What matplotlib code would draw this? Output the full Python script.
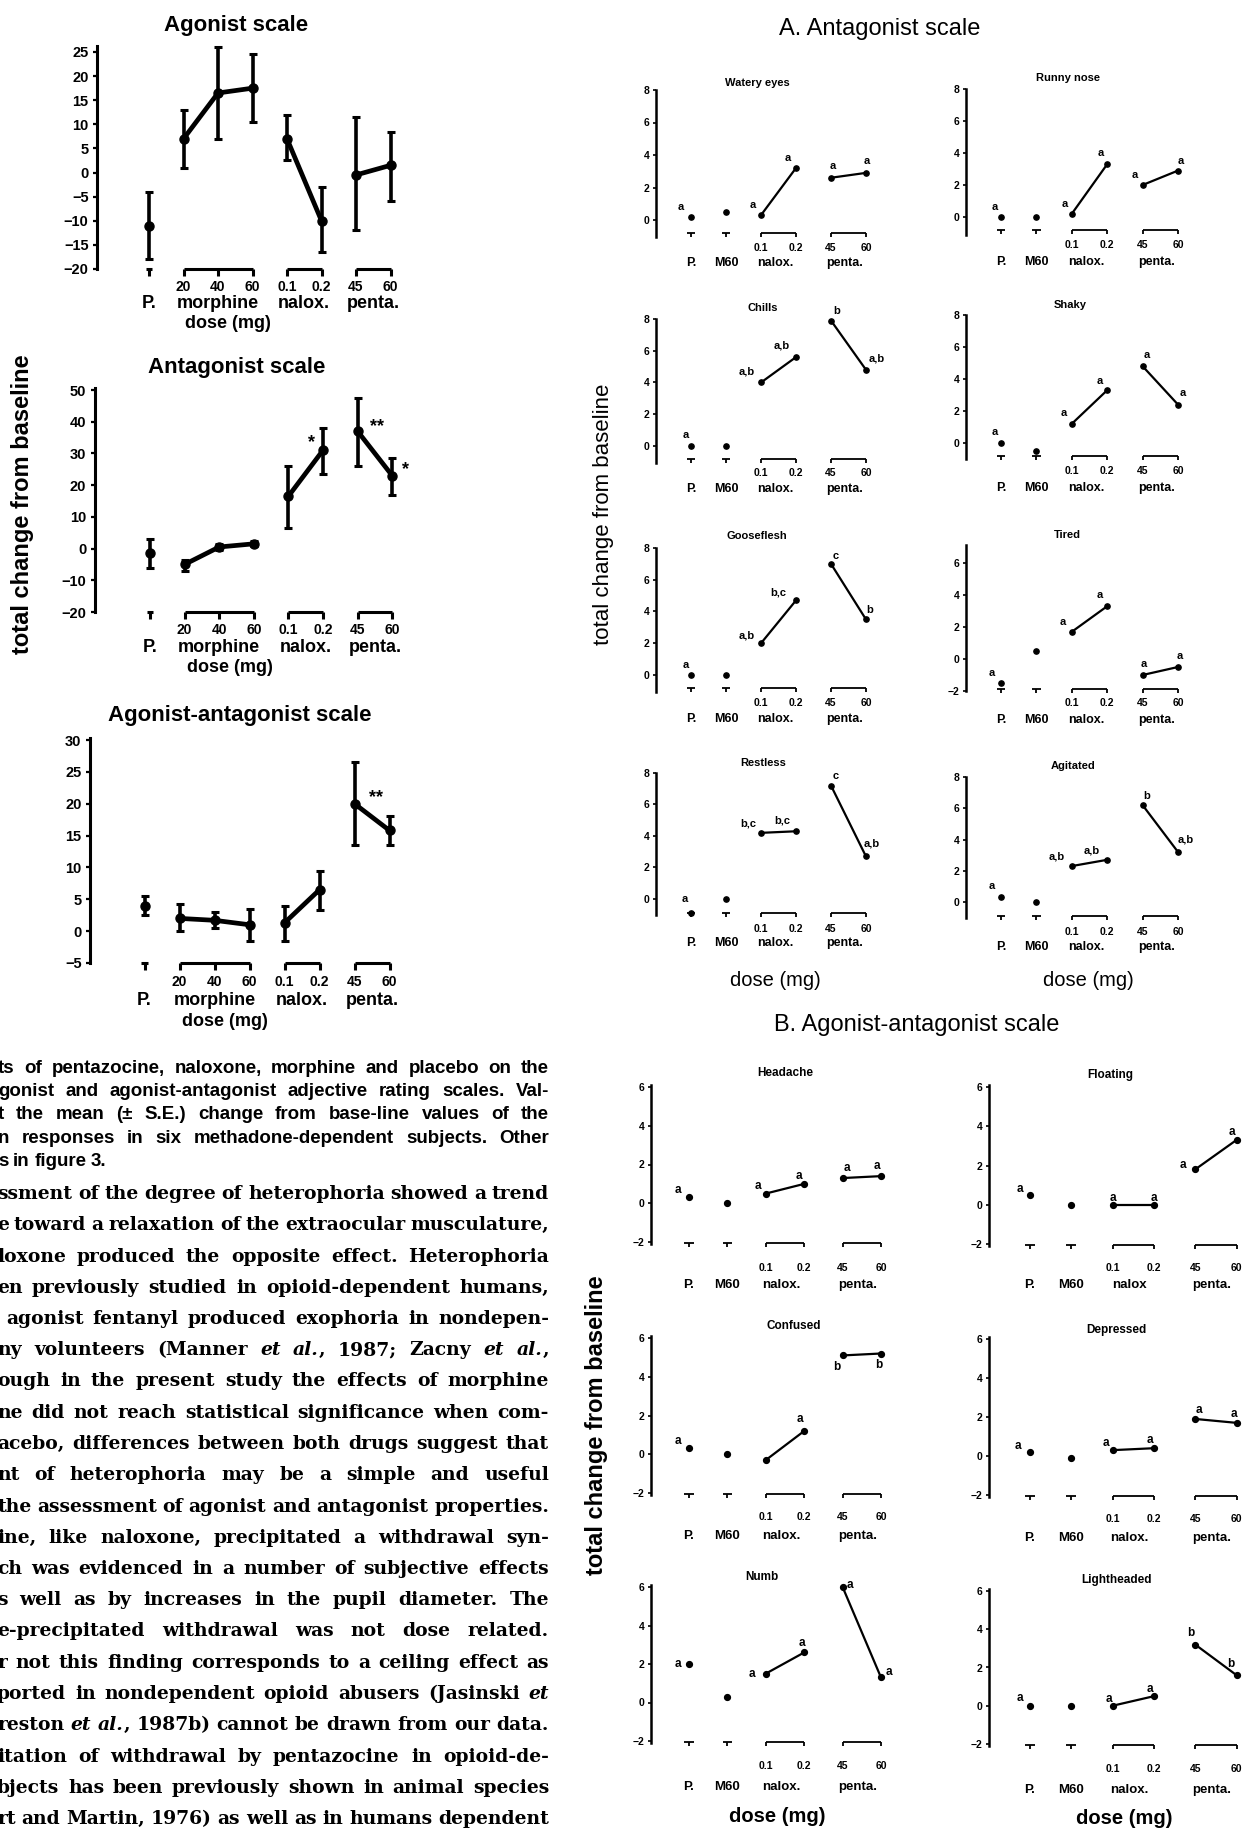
import numpy as np
import matplotlib.pyplot as plt
from matplotlib import transforms

plt.rcParams['font.family'] = ['Liberation Sans', 'DejaVu Sans']

# ---------- 数据: 左侧三个量表 (P, morphine 20/40/60, nalox 0.1/0.2, penta 45/60) ----------
big_doses = ['20', '40', '60', '0.1', '0.2', '45', '60']
big_groups = ['P.', 'morphine', 'nalox.', 'penta.']

agonist_mean = [-11, 7, 16.5, 17.5, 7, -10, -0.5, 1.5]
agonist_low = [-18, 1, 7, 10.5, 2.5, -16.5, -12, -6]
agonist_high = [-4, 13, 26, 24.5, 12, -3, 11.5, 8.5]

antagonist_mean = [-1.5, -5, 0.5, 1.5, 16.5, 31, 37, 23]
antagonist_low = [-6, -7, -0.3, 0.7, 6.5, 23.5, 26, 17]
antagonist_high = [3, -3.5, 1.3, 2.3, 26, 38, 47.5, 28.5]

agant_mean = [4, 2, 1.7, 1, 1.3, 6.5, 20, 15.8]
agant_low = [2.5, 0, 0.5, -1.5, -1.5, 3.3, 13.5, 13.5]
agant_high = [5.5, 4.3, 3, 3.5, 4, 9.5, 26.5, 18]

# ---------- 数据: 右侧形容词 (P, M60, nalox 0.1, 0.2, penta 45, 60) ----------
small_doses = ['0.1', '0.2', '45', '60']

watery_eyes = [0.2, 0.5, 0.3, 3.2, 2.6, 2.9]
watery_eyes_sig = ['a', '', 'a', 'a', 'a', 'a']
runny_nose = [0.0, 0.0, 0.2, 3.3, 2.0, 2.9]
runny_nose_sig = ['a', '', 'a', 'a', 'a', 'a']
chills = [0.0, 0.0, 4.0, 5.6, 7.9, 4.8]
chills_sig = ['a', '', 'a,b', 'a,b', 'b', 'a,b']
shaky = [0.0, -0.5, 1.2, 3.3, 4.8, 2.4]
shaky_sig = ['a', '', 'a', 'a', 'a', 'a']
gooseflesh = [0.0, 0.0, 2.0, 4.7, 7.0, 3.5]
gooseflesh_sig = ['a', '', 'a,b', 'b,c', 'c', 'b']
tired = [-1.5, 0.5, 1.7, 3.3, -1.0, -0.5]
tired_sig = ['a', '', 'a', 'a', 'a', 'a']
restless = [-0.9, 0.0, 4.2, 4.3, 7.2, 2.7]
restless_sig = ['a', '', 'b,c', 'b,c', 'c', 'a,b']
agitated = [0.3, 0.0, 2.3, 2.7, 6.2, 3.2]
agitated_sig = ['a', '', 'a,b', 'a,b', 'b', 'a,b']

headache = [0.3, 0.0, 0.5, 1.0, 1.3, 1.4]
headache_sig = ['a', '', 'a', 'a', 'a', 'a']
floating = [0.5, 0.0, 0.0, 0.0, 1.8, 3.3]
floating_sig = ['a', '', 'a', 'a', 'a', 'a']
confused = [0.3, 0.0, -0.3, 1.2, 5.1, 5.2]
confused_sig = ['a', '', '', 'a', 'b', 'b']
depressed = [0.2, -0.1, 0.3, 0.4, 1.9, 1.7]
depressed_sig = ['a', '', 'a', 'a', 'a', 'a']
numb = [2.0, 0.3, 1.5, 2.6, 6.0, 1.3]
numb_sig = ['a', '', 'a', 'a', 'a', 'a']
lightheaded = [0.0, 0.0, 0.0, 0.5, 3.2, 1.6]
lightheaded_sig = ['a', '', 'a', 'a', 'b', 'b']

caption_lines = [
    "ts of pentazocine, naloxone, morphine and placebo on the",
    "gonist and agonist-antagonist adjective rating scales. Val-",
    "t the mean (\u00b1 S.E.) change from base-line values of the",
    "n responses in six methadone-dependent subjects. Other",
    "s in figure 3.",
]
body_lines = [
    "ssment of the degree of heterophoria showed a trend",
    "e toward a relaxation of the extraocular musculature,",
    "loxone produced the opposite effect. Heterophoria",
    "en previously studied in opioid-dependent humans,",
    " agonist fentanyl produced exophoria in nondepen-",
    "ny volunteers (Manner _et_ _al._, 1987; Zacny _et_ _al._,",
    "ough in the present study the effects of morphine",
    "ne did not reach statistical significance when com-",
    "acebo, differences between both drugs suggest that",
    "nt of heterophoria may be a simple and useful",
    "the assessment of agonist and antagonist properties.",
    "ine, like naloxone, precipitated a withdrawal syn-",
    "ch was evidenced in a number of subjective effects",
    "s well as by increases in the pupil diameter. The",
    "e-precipitated withdrawal was not dose related.",
    "r not this finding corresponds to a ceiling effect as",
    "ported in nondependent opioid abusers (Jasinski _et_",
    "reston _et_ _al._, 1987b) cannot be drawn from our data.",
    "itation of withdrawal by pentazocine in opioid-de-",
    "bjects has been previously shown in animal species",
    "rt and Martin, 1976) as well as in humans dependent",
]

# ---------- 画布 ----------
W, H = 1243, 1832
fig = plt.figure(figsize=(W / 100, H / 100), dpi=100)


def place(x0, dx, ymap, xlim, ylim):
    # x0: pixel of index 0, dx: pixels per index; ymap: (va, pa, vb, pb)
    va, pa, vb, pb = ymap
    sy = (pb - pa) / (vb - va)
    left = x0 + xlim[0] * dx
    right = x0 + xlim[1] * dx
    top = pa + (ylim[1] - va) * sy
    bottom = pa + (ylim[0] - va) * sy
    ax = fig.add_axes([left / W, 1 - bottom / H, (right - left) / W, (bottom - top) / H])
    ax.set_xlim(xlim)
    ax.set_ylim(ylim)
    ax.patch.set_visible(False)
    for s in ['top', 'right', 'bottom']:
        ax.spines[s].set_visible(False)
    ax.set_xticks([])
    return ax


def ftext(xpx, ypx, s, **kw):
    fig.text(xpx / W, 1 - ypx / H, s, ha=kw.pop('ha', 'center'), va=kw.pop('va', 'center'), **kw)


def xtext(ax, x, ypx, s, **kw):
    tr = transforms.blended_transform_factory(ax.transData, fig.transFigure)
    ax.text(x, 1 - ypx / H, s, transform=tr, ha='center', va='center', clip_on=False, **kw)


def brackets(ax, groups, base, lw, ms, stub=0.12):
    for lo, hi in groups:
        if lo == hi:
            xs = [lo - stub, lo + stub]
            tx = [lo]
        else:
            xs = [lo, hi]
            tx = list(range(lo, hi + 1))
        ax.plot(xs, [base, base], color='k', lw=lw, clip_on=False, solid_capstyle='butt')
        ax.plot(tx, [base] * len(tx), ls='none', marker=3, ms=ms, mew=lw, color='k', clip_on=False)


# ---------- 左侧大图 ----------
big_panels = [
    dict(title='Agonist scale', title_xy=(236, 25), mean=agonist_mean, low=agonist_low, high=agonist_high,
         x0=149, dx=34.5, ymap=(25, 52, -20, 269), ylim=(-20, 26.2), ticks=list(range(-20, 30, 5)),
         xlim=(-1.51, 7.6), dose_y=287, group_y=304, mg_y=323, stars=[]),
    dict(title='Antagonist scale', title_xy=(237, 367), mean=antagonist_mean, low=antagonist_low,
         high=antagonist_high, x0=150, dx=34.6, ymap=(50, 390, -20, 612), ylim=(-20, 50.5),
         ticks=list(range(-20, 60, 10)), xlim=(-1.6, 7.6), dose_y=630, group_y=648, mg_y=668,
         stars=[(4.67, 33.5, '*'), (6.55, 38.5, '**'), (7.38, 25, '*')]),
    dict(title='Agonist-antagonist scale', title_xy=(240, 715), mean=agant_mean, low=agant_low, high=agant_high,
         x0=144.5, dx=35, ymap=(30, 740, -5, 963), ylim=(-5, 30.3), ticks=list(range(-5, 35, 5)),
         xlim=(-1.56, 7.6), dose_y=982, group_y=1000, mg_y=1022, stars=[(6.62, 21, '**')]),
]

for p in big_panels:
    ax = place(p['x0'], p['dx'], p['ymap'], p['xlim'], p['ylim'])
    x = np.arange(8)
    mean = np.array(p['mean'], float)
    yerr = [mean - np.array(p['low']), np.array(p['high']) - mean]
    ax.errorbar(x, mean, yerr=yerr, fmt='o', color='k', ms=6.5, elinewidth=2.6, capsize=3,
                capthick=2.2, clip_on=False)
    for a, b in [(1, 4), (4, 6), (6, 8)]:
        ax.plot(x[a:b], mean[a:b], color='k', lw=3.4, clip_on=False)
    ax.set_yticks(p['ticks'])
    ax.tick_params(axis='y', direction='out', length=3, width=1.6, labelsize=10.5, pad=3)
    for lbl in ax.get_yticklabels():
        lbl.set_fontweight('bold')
    ax.spines['left'].set_linewidth(2.2)
    ax.spines['left'].set_bounds(p['ylim'][0], p['ylim'][1])
    brackets(ax, [(0, 0), (1, 3), (4, 5), (6, 7)], p['ylim'][0], 2.2, 5, stub=0.1)
    for i, d in enumerate(big_doses):
        xtext(ax, i + 1, p['dose_y'], d, fontsize=10, fontweight='bold')
    for gx, g in zip([0, 2, 4.5, 6.5], big_groups):
        xtext(ax, gx, p['group_y'], g, fontsize=13, fontweight='bold')
    xtext(ax, 2.3, p['mg_y'], 'dose (mg)', fontsize=13, fontweight='bold')
    for sx, sy, s in p['stars']:
        ax.text(sx, sy, s, ha='center', va='center', fontsize=13, fontweight='bold')
    ftext(*p['title_xy'], p['title'], fontsize=16, fontweight='bold')

ftext(23, 504, 'total change from baseline', rotation=90, fontsize=17, fontweight='bold')

# ---------- 右侧小图 ----------
A_off = dict(
    watery=[(-0.3, 0.6), (0, 0), (-0.23, 0.6), (-0.23, 0.6), (0.06, 0.7), (0.03, 0.7)],
    runny=[(-0.17, 0.6), (0, 0), (-0.2, 0.6), (-0.18, 0.7), (-0.22, 0.6), (0.08, 0.6)],
    chills=[(-0.15, 0.7), (0, 0), (-0.4, 0.7), (-0.4, 0.7), (0.17, 0.6), (0.31, 0.7)],
    shaky=[(-0.17, 0.7), (0, 0), (-0.22, 0.7), (-0.2, 0.6), (0.12, 0.7), (0.14, 0.7)],
    goose=[(-0.15, 0.6), (0, 0), (-0.4, 0.5), (-0.5, 0.5), (0.12, 0.5), (0.1, 0.6)],
    tired=[(-0.25, 0.6), (0, 0), (-0.25, 0.6), (-0.2, 0.7), (0.04, 0.7), (0.06, 0.7)],
    restless=[(-0.17, 0.9), (0, 0), (-0.37, 0.6), (-0.4, 0.7), (0.12, 0.6), (0.15, 0.8)],
    agitated=[(-0.25, 0.7), (0, 0), (-0.42, 0.6), (-0.43, 0.6), (0.12, 0.6), (0.22, 0.8)],
)
B_off = dict(
    headache=[(-0.3, 0.4), (0, 0), (-0.2, 0.4), (-0.15, 0.4), (0.1, 0.5), (-0.1, 0.5)],
    floating=[(-0.25, 0.3), (0, 0), (0, 0.35), (0, 0.35), (-0.3, 0.2), (-0.1, 0.4)],
    confused=[(-0.3, 0.4), (0, 0), (0, 0), (-0.1, 0.6), (-0.15, -0.6), (-0.05, -0.6)],
    depressed=[(-0.3, 0.3), (0, 0), (-0.15, 0.35), (-0.1, 0.4), (0.1, 0.45), (-0.05, 0.45)],
    numb=[(-0.3, 0.0), (0, 0), (-0.35, 0.0), (-0.05, 0.5), (0.2, 0.1), (0.2, 0.3)],
    light=[(-0.25, 0.4), (0, 0), (-0.1, 0.35), (-0.1, 0.4), (-0.1, 0.6), (-0.15, 0.6)],
)

L_A = dict(x0=691, dx=35)
R_A = dict(x0=1001, dx=35.4)
L_B = dict(x0=689, dx=38.4)
R_B = dict(x0=1030, dx=41.3)

A8 = [0, 2, 4, 6, 8]
B6 = [-2, 0, 2, 4, 6]
small_panels = [
    dict(L_A, title='Watery eyes', title_xy=(757, 83), vals=watery_eyes, sig=watery_eyes_sig, off=A_off['watery'],
         ymap=(8, 90, 0, 220), ylim=(-1.05, 8), ticks=A8, base=-0.8, dose_y=248, group_y=263),
    dict(R_A, title='Runny nose', title_xy=(1068, 78), vals=runny_nose, sig=runny_nose_sig, off=A_off['runny'],
         ymap=(8, 89, 0, 217), ylim=(-1.1, 8), ticks=A8, base=-0.8, dose_y=245, group_y=262),
    dict(L_A, title='Chills', title_xy=(763, 308), vals=chills, sig=chills_sig, off=A_off['chills'],
         ymap=(8, 319, 0, 446), ylim=(-1.1, 8), ticks=A8, base=-0.8, dose_y=473, group_y=489),
    dict(R_A, title='Shaky', title_xy=(1070, 305), vals=shaky, sig=shaky_sig, off=A_off['shaky'],
         ymap=(8, 315, 0, 443), ylim=(-1.0, 8), ticks=A8, base=-0.8, dose_y=471, group_y=488),
    dict(L_A, title='Gooseflesh', title_xy=(757, 536), vals=gooseflesh, sig=gooseflesh_sig, off=A_off['goose'],
         ymap=(8, 548, 0, 675), ylim=(-1.1, 8), ticks=A8, base=-0.8, dose_y=703, group_y=719),
    dict(R_A, title='Tired', title_xy=(1067, 535), vals=tired, sig=tired_sig, off=A_off['tired'],
         ymap=(6, 563, -2, 691), ylim=(-2.0, 7.1), ticks=B6, base=-1.9, dose_y=703, group_y=720),
    dict(L_A, title='Restless', title_xy=(763, 763), vals=restless, sig=restless_sig, off=A_off['restless'],
         ymap=(8, 773, 0, 899), ylim=(-1.0, 8), ticks=A8, base=-0.9, dose_y=929, group_y=943),
    dict(R_A, title='Agitated', title_xy=(1073, 766), vals=agitated, sig=agitated_sig, off=A_off['agitated'],
         ymap=(8, 777, 0, 902), ylim=(-1.05, 8), ticks=A8, base=-0.9, dose_y=932, group_y=947),
    dict(L_B, title='Headache', title_xy=(785, 1073), vals=headache, sig=headache_sig, off=B_off['headache'],
         ymap=(6, 1087, -2, 1242), ylim=(-2.1, 6.1), ticks=B6, base=-2.05, dose_y=1268, group_y=1285),
    dict(R_B, title='Floating', title_xy=(1110, 1075), vals=floating, sig=floating_sig, off=B_off['floating'],
         ymap=(6, 1087, -2, 1244), ylim=(-2.1, 6.1), ticks=B6, base=-2.05, dose_y=1268, group_y=1285,
         groups=['P.', 'M60', 'nalox', 'penta.']),
    dict(L_B, title='Confused', title_xy=(794, 1326), vals=confused, sig=confused_sig, off=B_off['confused'],
         ymap=(6, 1338, -2, 1493), ylim=(-2.1, 6.1), ticks=B6, base=-2.05, dose_y=1517, group_y=1536),
    dict(R_B, title='Depressed', title_xy=(1116, 1330), vals=depressed, sig=depressed_sig, off=B_off['depressed'],
         ymap=(6, 1339, -2, 1495), ylim=(-2.1, 6.1), ticks=B6, base=-2.05, dose_y=1519, group_y=1538),
    dict(L_B, title='Numb', title_xy=(762, 1577), vals=numb, sig=numb_sig, off=B_off['numb'],
         ymap=(6, 1587, -2, 1741), ylim=(-2.1, 6.1), ticks=B6, base=-2.05, dose_y=1766, group_y=1787),
    dict(R_B, title='Lightheaded', title_xy=(1116, 1580), vals=lightheaded, sig=lightheaded_sig, off=B_off['light'],
         ymap=(6, 1591, -2, 1744), ylim=(-2.1, 6.1), ticks=B6, base=-2.05, dose_y=1769, group_y=1790),
]

for p in small_panels:
    bsec = p['dx'] > 36
    ax = place(p['x0'], p['dx'], p['ymap'], (-1.0, 5.6), p['ylim'])
    x = np.arange(6)
    v = np.array(p['vals'], float)
    ms = 4.2 if bsec else 3.8
    ax.plot(x[:2], v[:2], 'o', color='k', ms=ms, clip_on=False)
    ax.plot(x[2:4], v[2:4], '-o', color='k', ms=ms, lw=1.6, clip_on=False)
    ax.plot(x[4:6], v[4:6], '-o', color='k', ms=ms, lw=1.6, clip_on=False)
    for i, (s, (ox, oy)) in enumerate(zip(p['sig'], p['off'])):
        if s:
            ax.text(i + ox, v[i] + oy, s, ha='center', va='center', fontsize=8.5 if bsec else 8,
                    fontweight='bold', clip_on=False)
    ax.set_yticks(p['ticks'])
    ax.tick_params(axis='y', direction='out', length=2.5, width=1.2, labelsize=7.5, pad=2)
    for lbl in ax.get_yticklabels():
        lbl.set_fontweight('bold')
    ax.spines['left'].set_linewidth(1.8)
    ax.spines['left'].set_bounds(p['ylim'][0], p['ylim'][1])
    brackets(ax, [(0, 0), (1, 1), (2, 3), (4, 5)], p['base'], 1.3, 3)
    for i, d in enumerate(small_doses):
        xtext(ax, i + 2, p['dose_y'], d, fontsize=7.5, fontweight='bold')
    for gx, g in zip([0, 1, 2.4, 4.4], p.get('groups', ['P.', 'M60', 'nalox.', 'penta.'])):
        xtext(ax, gx, p['group_y'], g, fontsize=9.5 if bsec else 9, fontweight='bold')
    ftext(*p['title_xy'], p['title'], fontsize=8.5 if bsec else 8, fontweight='bold')

ftext(880, 29, 'A. Antagonist scale', fontsize=17)
ftext(917, 1025, 'B. Agonist-antagonist scale', fontsize=17)
ftext(604, 514, 'total change from baseline', rotation=90, fontsize=16)
ftext(596, 1425, 'total change from baseline', rotation=90, fontsize=17, fontweight='bold')
ftext(775, 980, 'dose (mg)', fontsize=14.5)
ftext(1088, 980, 'dose (mg)', fontsize=14.5)
ftext(777, 1817, 'dose (mg)', fontsize=14.5, fontweight='bold')
ftext(1124, 1819, 'dose (mg)', fontsize=14.5, fontweight='bold')

# ---------- 左下正文 (两端对齐) ----------
renderer = fig.canvas.get_renderer()


def segs(word):
    return [(t, i % 2 == 1) for i, t in enumerate(word.split('_')) if t]


def word_width(word, family, size, weight):
    w = 0.0
    for t, it in segs(word):
        tt = fig.text(0, 0, t, family=family, fontsize=size, fontweight=weight,
                      style='italic' if it else 'normal')
        w += tt.get_window_extent(renderer).width
        tt.remove()
    return w


def justify(lines, ys, xl, xr, family, weight, ref_size, last_natural):
    # choose size so the tightest line just fits with normal spacing
    nat = []
    for line in lines:
        words = line.split(' ')
        ws = sum(word_width(w, family, 10, weight) for w in words)
        nat.append(ws + (len(words) - 1) * 10 * 0.25 * 100 / 72)
    check = nat[:-1] if last_natural else nat
    size = min(ref_size, 10 * (xr - xl) / max(check))
    for k, (line, y) in enumerate(zip(lines, ys)):
        words = line.split(' ')
        widths = [word_width(w, family, size, weight) for w in words]
        if last_natural and k == len(lines) - 1:
            gap = size * 0.25 * 100 / 72
        else:
            gap = (xr - xl - sum(widths)) / max(len(words) - 1, 1)
        xp = xl
        for w, wd in zip(words, widths):
            xs = xp
            for t, it in segs(w):
                tt = fig.text(xs / W, 1 - y / H, t, family=family, fontsize=size, fontweight=weight,
                              style='italic' if it else 'normal', ha='left', va='baseline')
                xs += tt.get_window_extent(renderer).width
            xp += wd + gap


cap_y = [1073, 1096, 1119, 1143, 1166]
justify(caption_lines, cap_y, -2, 549, ['Liberation Sans', 'DejaVu Sans'], 'bold', 13.5, True)
body_y = [1199 + 31.25 * k for k in range(len(body_lines))]
justify(body_lines, body_y, -3, 549, ['DejaVu Serif'], 'bold', 16, False)

fig.savefig('out.png', dpi=100, facecolor='white')
